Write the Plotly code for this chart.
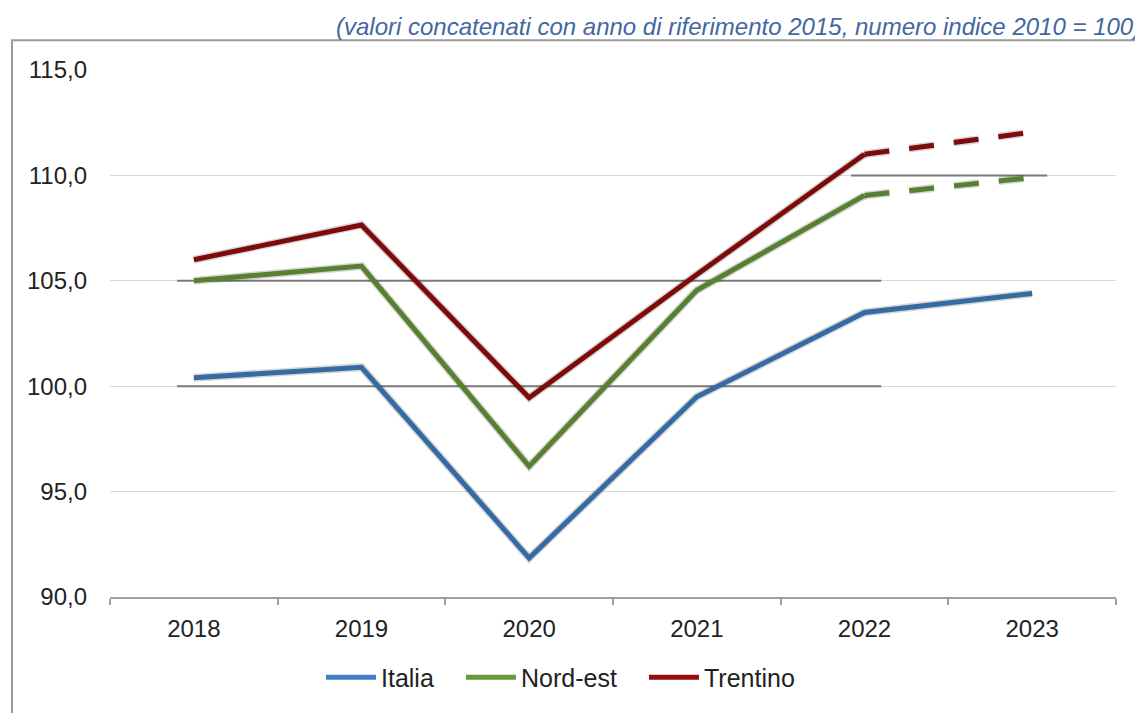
import plotly.graph_objects as go

# ---- data ----
years = ["2018", "2019", "2020", "2021", "2022", "2023"]
italia = [100.4, 100.9, 91.85, 99.5, 103.5, 104.4]
nord_est = [105.0, 105.7, 96.2, 104.55, 109.05, 109.9]
trentino = [106.0, 107.65, 99.45, 105.3, 111.0, 112.05]
# index of the first projected (dashed) year segment start
proj_start = 4

# darker reference segments (level, from category index, to category index)
ref_levels = [105.0, 100.0, 110.0]
ref_from = [-0.1, -0.1, 3.92]
ref_to = [4.1, 4.1, 5.09]

subtitle = "(valori concatenati con anno di riferimento 2015, numero indice 2010 = 100)"

# ---- geometry (page body has an 8px margin) ----
OFF = 8
W, H = 1143 - OFF, 713 - OFF
L, R, T, B = 110 - OFF, 23, 70 - OFF, 108
PW, PH = W - L - R, H - B - T
SDX, SDY = 4, 5  # shadow offset in px


def px_x(px):
    return (px - OFF - L) / PW


def px_y(py):
    return (H - B - (py - OFF)) / PH


c_it = "#4080c2"
c_ne = "#6b983b"
c_tr = "#980c0c"
shadow = "rgba(0,0,0,0.16)"
LW = 5
DASH = "25px,20px"

fig = go.Figure()

series = [("Italia", italia, c_it, False, "legend", 321),
          ("Nord-est", nord_est, c_ne, True, "legend2", 461),
          ("Trentino", trentino, c_tr, True, "legend3", 644)]

# shadows (on shifted overlay axes)
for name, vals, col, dashed, lg, lx in series:
    if dashed:
        fig.add_trace(go.Scatter(x=years[:proj_start + 1], y=vals[:proj_start + 1], mode="lines",
                                 line=dict(color=shadow, width=LW + 3), xaxis="x2", yaxis="y2",
                                 showlegend=False, hoverinfo="skip"))
        fig.add_trace(go.Scatter(x=years[proj_start:], y=vals[proj_start:], mode="lines",
                                 line=dict(color=shadow, width=LW + 3, dash=DASH), xaxis="x2", yaxis="y2",
                                 showlegend=False, hoverinfo="skip"))
    else:
        fig.add_trace(go.Scatter(x=years, y=vals, mode="lines", line=dict(color=shadow, width=LW + 3),
                                 xaxis="x2", yaxis="y2", showlegend=False, hoverinfo="skip"))

for name, vals, col, dashed, lg, lx in series:
    if dashed:
        fig.add_trace(go.Scatter(x=years[:proj_start + 1], y=vals[:proj_start + 1], mode="lines", name=name,
                                 line=dict(color=col, width=LW), legend=lg))
        fig.add_trace(go.Scatter(x=years[proj_start:], y=vals[proj_start:], mode="lines", name=name,
                                 line=dict(color=col, width=LW, dash=DASH), showlegend=False, legend=lg))
    else:
        fig.add_trace(go.Scatter(x=years, y=vals, mode="lines", name=name, line=dict(color=col, width=LW),
                                 legend=lg))

shapes = []
for lv, a, b in zip(ref_levels, ref_from, ref_to):
    shapes.append(dict(type="line", xref="x", yref="y", x0=a, x1=b, y0=lv, y1=lv,
                       line=dict(color="#7a7a7a", width=2), layer="between"))
# outer frame
shapes.append(dict(type="rect", xref="paper", yref="paper", x0=px_x(12), x1=px_x(1170),
                   y0=px_y(740), y1=px_y(40), line=dict(color="#9a9a9a", width=2), layer="below"))

main_x_dom = [0, px_x(1116)]
main_y_dom = [px_y(600), 1]

legend_common = dict(orientation="h", xanchor="left", yanchor="middle", y=px_y(681),
                     font=dict(size=25, color="#222222"), itemwidth=50, bgcolor="rgba(0,0,0,0)",
                     borderwidth=0)

fig.update_layout(
    width=W, height=H,
    margin=dict(l=L, r=R, t=T, b=B),
    paper_bgcolor="white", plot_bgcolor="rgba(0,0,0,0)",
    font=dict(family="Liberation Sans, Arial, sans-serif", size=24, color="#222222"),
    separators=",.",
    xaxis=dict(type="category", categoryorder="array", categoryarray=years, range=[-0.5, 5.5],
               domain=main_x_dom, anchor="y", showgrid=False, zeroline=False,
               showline=True, linecolor="#a0a0a0", linewidth=2,
               ticks="outside", tickson="boundaries", ticklen=6, tickwidth=1.5, tickcolor="#a0a0a0",
               ticklabelstandoff=9, tickfont=dict(size=24, color="#222222")),
    yaxis=dict(range=[90, 115], dtick=5, tick0=90, tickformat=".1f", domain=main_y_dom, anchor="x",
               showgrid=True, gridcolor="#d9d9d9", gridwidth=1, zeroline=False, showline=False,
               ticks="", ticklabelstandoff=22, tickfont=dict(size=24, color="#222222")),
    xaxis2=dict(type="category", categoryorder="array", categoryarray=years, range=[-0.5, 5.5],
                domain=[px_x(110 + SDX), px_x(1116 + SDX)], anchor="y2", visible=False, overlaying="x"),
    yaxis2=dict(range=[90, 115], domain=[px_y(600 + SDY), px_y(70 + SDY)], anchor="x2", visible=False,
                overlaying="y"),
    legend=dict(legend_common, x=px_x(series[0][5])),
    legend2=dict(legend_common, x=px_x(series[1][5])),
    legend3=dict(legend_common, x=px_x(series[2][5])),
    shapes=shapes,
    annotations=[dict(text=subtitle, xref="paper", yref="paper", x=px_x(1143), y=px_y(26),
                      xanchor="right", yanchor="middle", showarrow=False,
                      font=dict(size=24, color="#4467a0", style="italic"))],
    showlegend=True,
)

fig.write_html("out.html")
